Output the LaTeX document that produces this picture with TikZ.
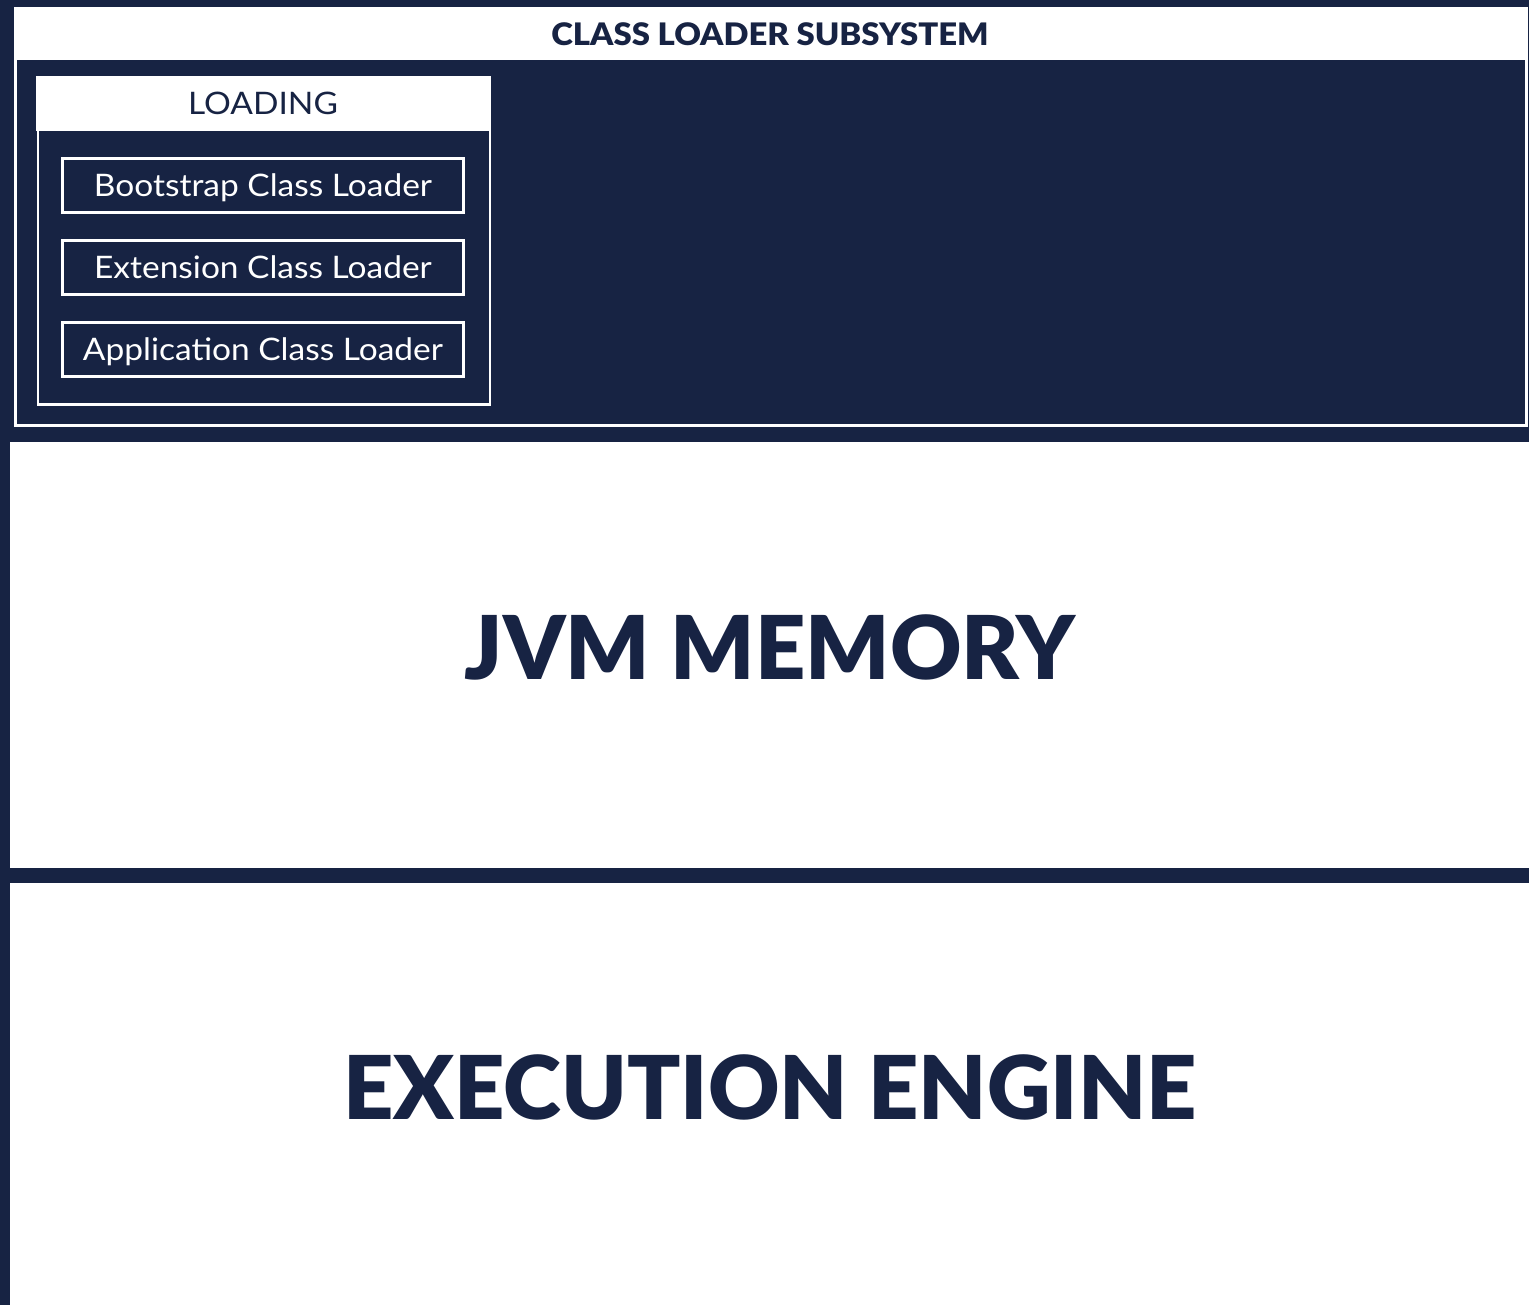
\documentclass[tikz,border=0pt]{standalone}
\usepackage{fontspec}
\setmainfont{Lato}
\newfontfamily\heavyfont{Lato Black}
\newfontfamily\heavywidefont{Lato Black}[FakeStretch=1.06]
\newfontfamily\widefont{Lato}[FakeStretch=1.08]
\definecolor{navy}{RGB}{23,35,67}
\tikzset{
  panel/.style={fill=white, draw=none, inner sep=0pt},
  bigtitle/.style={text=navy, font=\fontsize{88}{88}\heavyfont, inner sep=0pt, text height=63pt, text depth=0pt},
  headtitle/.style={text=navy, font=\fontsize{31}{31}\heavywidefont, inner sep=0pt, text height=22pt, text depth=0pt},
  loadtitle/.style={text=navy, font=\fontsize{31}{31}\widefont, inner sep=0pt, text height=22pt, text depth=0pt},
  loaderbox/.style={draw=white, line width=2.5pt, fill=navy, text=white,
    minimum width=401pt, minimum height=54pt, inner sep=0pt,
    font=\fontsize{31}{31}\widefont, text height=22pt, text depth=0pt},
}
\begin{document}
\begin{tikzpicture}[x=1pt, y=-1pt]
  \useasboundingbox (0,0) rectangle (1529,1305);
  % dark frame behind everything
  \fill[navy] (0,0) rectangle (1529,1305);

  % lower panels
  \node[panel, minimum width=1519pt, minimum height=426pt] (memory) at (769.5,655) {};
  \node[panel, minimum width=1519pt, minimum height=422pt] (engine) at (769.5,1094) {};
  \node[bigtitle] (memtitle) at (770,648) {JVM MEMORY};
  \node[bigtitle] (enginetitle) at (770,1088) {EXECUTION ENGINE};

  % class loader subsystem
  \node[draw=white, line width=3pt, fill=navy, minimum width=1511pt, minimum height=417pt, inner sep=0pt] (subsystem) at (771,217) {};
  \fill[white] (14,7) rectangle (1528,60);
  \node[headtitle] (subtitle) at (770,35) {CLASS LOADER SUBSYSTEM};

  % loading phase
  \node[draw=white, line width=2.5pt, fill=navy, minimum width=452pt, minimum height=327pt, inner sep=0pt] (loading) at (264,241) {};
  \fill[white] (36,76) rectangle (491,131);
  \node[loadtitle] (loadlabel) at (263,104) {LOADING};

  \node[loaderbox] (boot) at (263,185.5) {Bootstrap Class Loader};
  \node[loaderbox] (ext) at (263,267.5) {Extension Class Loader};
  \node[loaderbox] (app) at (263,349.5) {Application Class Loader};
\end{tikzpicture}
\end{document}
